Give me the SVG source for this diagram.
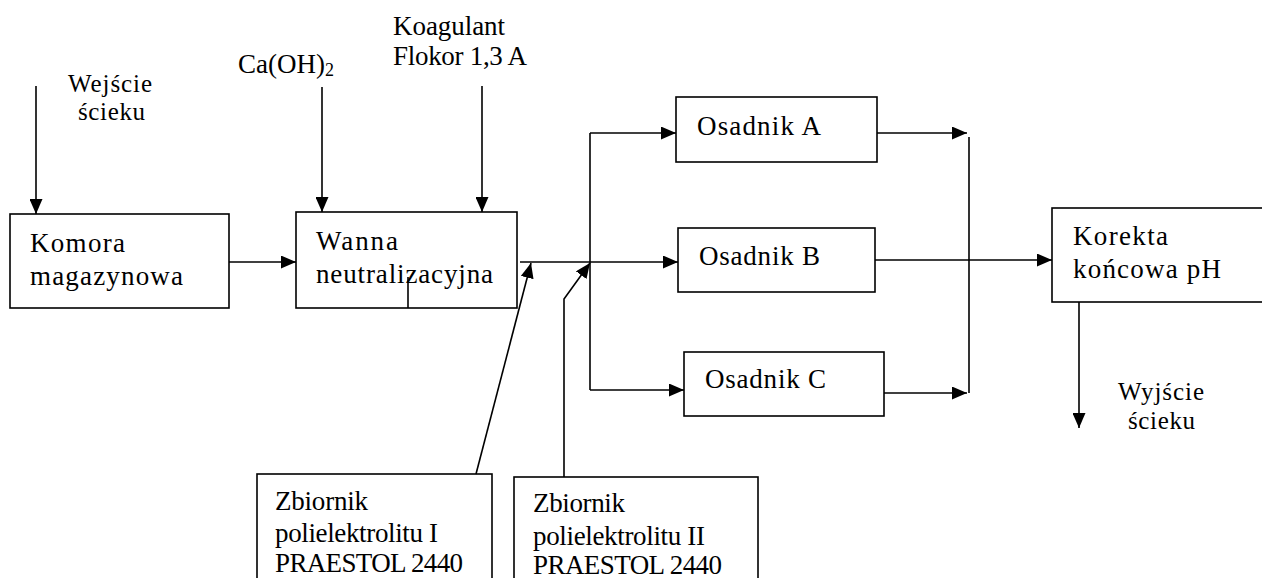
<svg xmlns="http://www.w3.org/2000/svg" width="1262" height="578" viewBox="0 0 1262 578">
  <style>
    .box { fill: #ffffff; stroke: #000000; stroke-width: 1.6; }
    .ln { fill: none; stroke: #000000; stroke-width: 1.6; }
    .arr { marker-end: url(#head); }
    text { font-family: "Liberation Serif", "Times New Roman", serif; font-size: 27px; fill: #000000; }
    .lbl { font-size: 25px; }
  </style>
  <defs>
    <marker id="head" markerUnits="userSpaceOnUse" markerWidth="15" markerHeight="13" refX="15" refY="6.5" orient="auto">
      <path d="M0,0 L15,6.5 L0,13 z" fill="#000000"/>
    </marker>
  </defs>

  <rect width="1262" height="578" fill="#ffffff"/>

  <!-- process units -->
  <g id="komora">
    <rect class="box" x="10" y="214" width="219" height="94"/>
    <text x="30" y="252" textLength="95">Komora</text>
    <text x="30" y="285" textLength="153">magazynowa</text>
  </g>
  <g id="wanna">
    <rect class="box" x="296" y="212" width="221" height="96"/>
    <text x="316" y="250" textLength="82">Wanna</text>
    <text x="316" y="283" textLength="177">neutralizacyjna</text>
  </g>
  <g id="osadnik-a">
    <rect class="box" x="676" y="97" width="201" height="65"/>
    <text x="697" y="135" textLength="124">Osadnik A</text>
  </g>
  <g id="osadnik-b">
    <rect class="box" x="678" y="228" width="197" height="64"/>
    <text x="699" y="265" textLength="121">Osadnik B</text>
  </g>
  <g id="osadnik-c">
    <rect class="box" x="684" y="352" width="200" height="64"/>
    <text x="705" y="388" textLength="121">Osadnik C</text>
  </g>
  <g id="korekta">
    <rect class="box" x="1052" y="208" width="230" height="94"/>
    <text x="1073" y="245" textLength="95">Korekta</text>
    <text x="1073" y="278" textLength="148">końcowa pH</text>
  </g>
  <g id="zbiornik-1">
    <rect class="box" x="257" y="474" width="235" height="130"/>
    <text x="275" y="510" textLength="93">Zbiornik</text>
    <text x="275" y="542" textLength="163">polielektrolitu I</text>
    <text x="275" y="572" textLength="188">PRAESTOL 2440</text>
  </g>
  <g id="zbiornik-2">
    <rect class="box" x="514" y="477" width="244" height="130"/>
    <text x="533" y="512" textLength="92">Zbiornik</text>
    <text x="533" y="545" textLength="172">polielektrolitu II</text>
    <text x="533" y="574" textLength="189">PRAESTOL 2440</text>
  </g>

  <!-- process connectors -->
  <g id="connectors">
    <line class="ln arr" x1="36" y1="86" x2="36" y2="214"/>
    <line class="ln arr" x1="322" y1="87" x2="322" y2="212"/>
    <line class="ln arr" x1="482" y1="86" x2="482" y2="212"/>
    <line class="ln arr" x1="229" y1="262" x2="296" y2="262"/>
    <line class="ln" x1="408" y1="277" x2="408" y2="308"/>
    <line class="ln arr" x1="520" y1="262" x2="678" y2="262"/>
    <line class="ln" x1="590" y1="133" x2="590" y2="390"/>
    <line class="ln arr" x1="590" y1="133" x2="676" y2="133"/>
    <line class="ln arr" x1="590" y1="390" x2="684" y2="390"/>
    <line class="ln arr" x1="877" y1="133" x2="967" y2="133"/>
    <line class="ln arr" x1="884" y1="393" x2="967" y2="393"/>
    <line class="ln" x1="969" y1="137" x2="969" y2="393"/>
    <line class="ln arr" x1="875" y1="260" x2="1052" y2="260"/>
    <line class="ln arr" x1="1079" y1="302" x2="1079" y2="428"/>
    <line class="ln arr" x1="476" y1="474" x2="531" y2="263"/>
    <polyline class="ln arr" points="564,477 564,299 590,263"/>
  </g>

  <!-- feed labels -->
  <g id="label-inlet">
    <text class="lbl" x="68" y="92" textLength="84">Wejście</text>
    <text class="lbl" x="78" y="120" textLength="67">ścieku</text>
  </g>
  <g id="label-lime">
    <text x="238" y="73">Ca(OH)<tspan font-size="18" dy="3">2</tspan></text>
  </g>
  <g id="label-coagulant">
    <text x="393" y="35" textLength="112">Koagulant</text>
    <text x="393" y="65" textLength="134">Flokor 1,3 A</text>
  </g>
  <g id="label-outlet">
    <text class="lbl" x="1118" y="400" textLength="86">Wyjście</text>
    <text class="lbl" x="1128" y="429" textLength="67">ścieku</text>
  </g>
</svg>
